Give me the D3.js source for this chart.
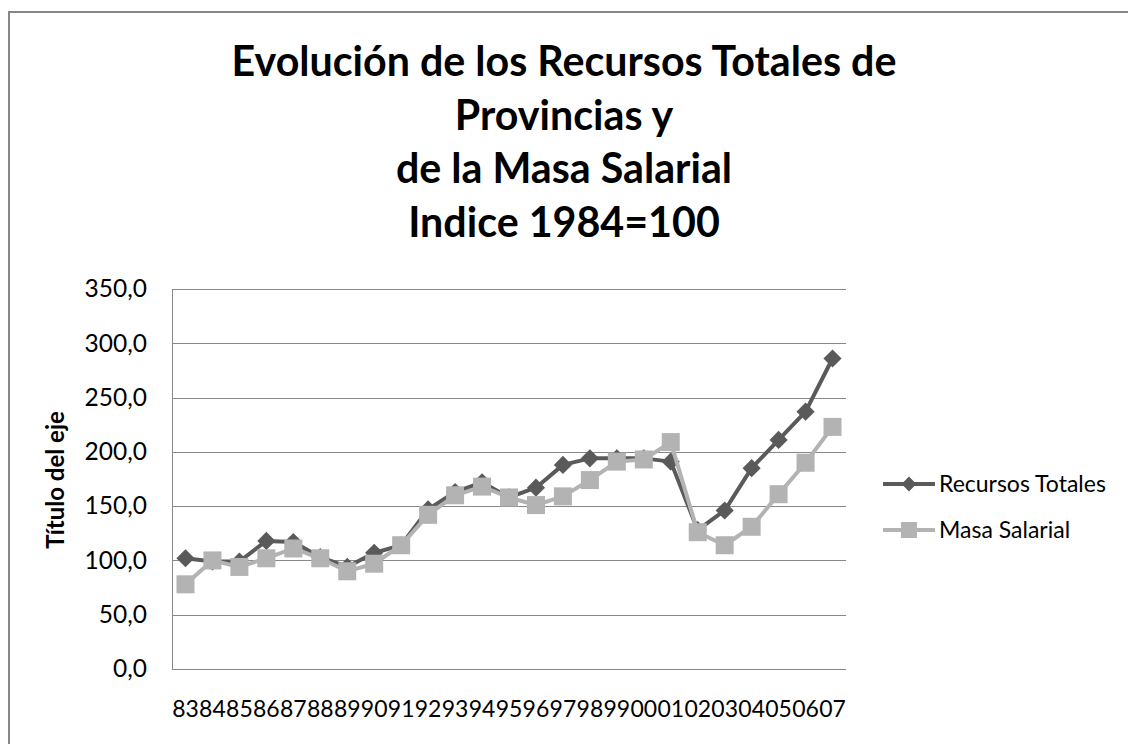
<!DOCTYPE html>
<html>
<head>
<meta charset="utf-8">
<script src="https://cdn.jsdelivr.net/npm/d3@7"></script>
<style>
  body { margin: 0; background: #fff; }
  text { font-family: Lato, "Open Sans", sans-serif; fill: #000; }
</style>
</head>
<body>
<div id="chart"></div>
<script>
// data (index 1984 = 100)
let years = ["83","84","85","86","87","88","89","90","91","92","93","94","95","96","97","98","99","00","01","02","03","04","05","06","07"];
let recursosTotales = [102,99,99,118,117,103,94,107,114,147,163,172,158,167,188,194,194,194,191,128,146,185,211,237,286];
let masaSalarial = [78,100,94,102,111,102,90,97,114,142,160,168,158,151,159,174,191,193,209,126,114,131,161,190,223];
let yTicks = [0,50,100,150,200,250,300,350];
let titleLines = ["Evolución de los Recursos Totales de", "Provincias y", "de la Masa Salarial", "Indice 1984=100"];

let svgWidth = 1128;
let svgHeight = 744;

// plot area
let plot = { left: 172, right: 846, top: 289, bottom: 669 };

let darkGray = "#5a5a5a";
let lightGray = "#b3b3b3";
let gridColor = "#888888";

let svg = d3.select("#chart")
  .append("svg")
  .attr("width", svgWidth)
  .attr("height", svgHeight);

// chart border (runs off the right and bottom edge)
svg.append("rect")
  .attr("x", 9)
  .attr("y", 12)
  .attr("width", 1140)
  .attr("height", 760)
  .attr("fill", "#fff")
  .attr("stroke", "#878787")
  .attr("stroke-width", 2);

// title
let titleGroup = svg.append("g");
titleLines.forEach(function(line, i) {
  titleGroup.append("text")
    .attr("x", 564)
    .attr("y", 76 + i * 53.5)
    .attr("text-anchor", "middle")
    .attr("font-weight", "bold")
    .attr("font-size", "36px")
    .text(line);
});
// fit the first line to the width of the original title
let firstLen = titleGroup.select("text").node().getComputedTextLength();
let titleSize = 36 * 665 / firstLen;
titleGroup.selectAll("text").attr("font-size", titleSize + "px");

// scales
let xScale = d3.scaleBand()
  .domain(years)
  .range([plot.left, plot.right]);

let yScale = d3.scaleLinear()
  .domain([0, 350])
  .range([plot.bottom, plot.top]);

let esLocale = d3.formatLocale({ decimal: ",", thousands: ".", grouping: [3], currency: ["", "€"] });
let fmt = esLocale.format(".1f");

// gridlines + y axis
let leftAxis = d3.axisLeft(yScale)
  .tickValues(yTicks)
  .tickSize(-(plot.right - plot.left))
  .tickPadding(25)
  .tickFormat(fmt);

let yAxis = svg.append("g")
  .attr("transform", `translate(${plot.left},0)`)
  .call(leftAxis);

yAxis.select(".domain").attr("stroke", gridColor);
yAxis.selectAll(".tick line").attr("stroke", gridColor).attr("shape-rendering", "crispEdges");
yAxis.selectAll(".tick text")
  .attr("font-family", "Lato, sans-serif")
  .attr("font-size", "24.5px")
  .attr("fill", "#111");

// x axis labels
let bottomAxis = d3.axisBottom(xScale)
  .tickSize(0)
  .tickPadding(32);

let xAxis = svg.append("g")
  .attr("transform", `translate(0,${plot.bottom})`)
  .call(bottomAxis);

xAxis.select(".domain").remove();
xAxis.selectAll(".tick text")
  .attr("font-family", "Lato, sans-serif")
  .attr("font-size", "23px")
  .attr("fill", "#111");

// y axis title
svg.append("text")
  .attr("transform", "translate(64,480) rotate(-90)")
  .attr("text-anchor", "middle")
  .attr("font-weight", "bold")
  .attr("font-size", "24px")
  .text("Título del eje");

// lines
let cx = function(d, i) { return xScale(years[i]) + xScale.bandwidth() / 2; };

let lineGen = d3.line()
  .x(cx)
  .y(function(d) { return yScale(d); });

svg.append("path")
  .datum(recursosTotales)
  .attr("fill", "none")
  .attr("stroke", darkGray)
  .attr("stroke-width", 4)
  .attr("stroke-linejoin", "round")
  .attr("d", lineGen);

svg.append("g")
  .selectAll("path")
  .data(recursosTotales)
  .enter()
  .append("path")
  .attr("d", d3.symbol().type(d3.symbolSquare).size(165))
  .attr("transform", function(d, i) { return `translate(${cx(d, i)},${yScale(d)}) rotate(45)`; })
  .attr("fill", darkGray);

svg.append("path")
  .datum(masaSalarial)
  .attr("fill", "none")
  .attr("stroke", lightGray)
  .attr("stroke-width", 4)
  .attr("stroke-linejoin", "round")
  .attr("d", lineGen);

svg.append("g")
  .selectAll("rect")
  .data(masaSalarial)
  .enter()
  .append("rect")
  .attr("x", function(d, i) { return cx(d, i) - 9; })
  .attr("y", function(d) { return yScale(d) - 9; })
  .attr("width", 18)
  .attr("height", 18)
  .attr("fill", lightGray);

// legend
let legend = svg.append("g");
let legendItems = [
  { name: "Recursos Totales", color: darkGray, marker: "diamond", y: 484 },
  { name: "Masa Salarial", color: lightGray, marker: "square", y: 530 }
];
legendItems.forEach(function(item) {
  legend.append("line")
    .attr("x1", 883).attr("x2", 935)
    .attr("y1", item.y).attr("y2", item.y)
    .attr("stroke", item.color)
    .attr("stroke-width", 4);
  if (item.marker === "diamond") {
    legend.append("path")
      .attr("d", d3.symbol().type(d3.symbolSquare).size(110))
      .attr("transform", `translate(909,${item.y}) rotate(45)`)
      .attr("fill", item.color);
  } else {
    legend.append("rect")
      .attr("x", 909 - 8).attr("y", item.y - 8)
      .attr("width", 16).attr("height", 16)
      .attr("fill", item.color);
  }
  legend.append("text")
    .attr("x", 939)
    .attr("y", item.y)
    .attr("dy", "0.35em")
    .attr("font-size", "23px")
    .attr("fill", "#111")
    .text(item.name);
});
</script>
</body>
</html>
